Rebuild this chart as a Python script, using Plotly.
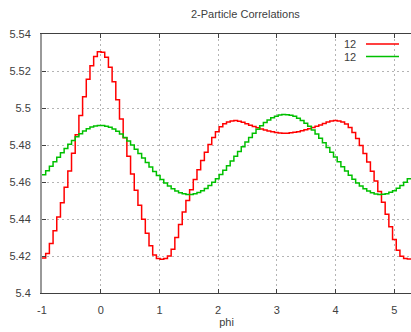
import numpy as np
import plotly.graph_objects as go

# ---- data ----
chart_title = "2-Particle Correlations"
x_title = "phi"
series_names = ["12", "12"]
series_colors = ["#ff0000", "#00c000"]
n_bins = 100
phi_min = -1.0
phi_max = 2 * np.pi - 1.0

red_values = [
    5.4189, 5.4214, 5.4267, 5.4336, 5.4411, 5.4488, 5.4571, 5.4659, 5.4756, 5.4856,
    5.4959, 5.5061, 5.5155, 5.5229, 5.5279, 5.5304, 5.5302, 5.5274, 5.5220, 5.5142,
    5.5044, 5.4941, 5.4839, 5.4739, 5.4643, 5.4556, 5.4474, 5.4398, 5.4323, 5.4255,
    5.4205, 5.4186, 5.4183, 5.4187, 5.4200, 5.4237, 5.4300, 5.4370, 5.4438, 5.4500,
    5.4558, 5.4614, 5.4666, 5.4716, 5.4761, 5.4803, 5.4840, 5.4872, 5.4898, 5.4915,
    5.4925, 5.4930, 5.4932, 5.4929, 5.4923, 5.4915, 5.4907, 5.4900, 5.4893, 5.4887,
    5.4881, 5.4876, 5.4871, 5.4868, 5.4865, 5.4864, 5.4864, 5.4866, 5.4869, 5.4872,
    5.4877, 5.4882, 5.4888, 5.4894, 5.4901, 5.4908, 5.4916, 5.4924, 5.4930, 5.4932,
    5.4930, 5.4924, 5.4913, 5.4895, 5.4868, 5.4835, 5.4797, 5.4754, 5.4708, 5.4658,
    5.4605, 5.4548, 5.4490, 5.4426, 5.4358, 5.4289, 5.4231, 5.4198, 5.4186, 5.4184,
]
green_values = [
    5.4639, 5.4661, 5.4685, 5.4709, 5.4734, 5.4758, 5.4781, 5.4804, 5.4825, 5.4844,
    5.4861, 5.4876, 5.4888, 5.4897, 5.4903, 5.4906, 5.4906, 5.4902, 5.4896, 5.4886,
    5.4874, 5.4859, 5.4841, 5.4821, 5.4800, 5.4777, 5.4754, 5.4730, 5.4705, 5.4681,
    5.4657, 5.4635, 5.4614, 5.4595, 5.4578, 5.4563, 5.4551, 5.4542, 5.4536, 5.4533,
    5.4533, 5.4537, 5.4543, 5.4553, 5.4565, 5.4581, 5.4598, 5.4618, 5.4640, 5.4663,
    5.4688, 5.4713, 5.4739, 5.4765, 5.4791, 5.4816, 5.4841, 5.4863, 5.4885, 5.4904,
    5.4921, 5.4935, 5.4947, 5.4956, 5.4962, 5.4965, 5.4964, 5.4961, 5.4955, 5.4945,
    5.4933, 5.4918, 5.4901, 5.4881, 5.4860, 5.4837, 5.4812, 5.4787, 5.4761, 5.4735,
    5.4709, 5.4683, 5.4659, 5.4636, 5.4615, 5.4595, 5.4578, 5.4563, 5.4551, 5.4542,
    5.4535, 5.4533, 5.4534, 5.4537, 5.4544, 5.4553, 5.4566, 5.4581, 5.4598, 5.4618,
]
x_tick_values = [-1, 0, 1, 2, 3, 4, 5]
x_tick_labels = ["-1", "0", "1", "2", "3", "4", "5"]
y_tick_values = [5.40, 5.42, 5.44, 5.46, 5.48, 5.50, 5.52, 5.54]
y_tick_labels = ["5.4", "5.42", "5.44", "5.46", "5.48", "5.5", "5.52", "5.54"]

# ---- figure ----
W, H = 411, 332
ML, MR, MT, MB = 42, 0, 34, 39
font_family = "Liberation Sans, Arial, sans-serif"
text_color = "#404040"

bin_edges = np.linspace(phi_min, phi_max, n_bins + 1)

fig = go.Figure()
for name, vals, col in zip(series_names, [red_values, green_values], series_colors):
    fig.add_trace(go.Scatter(
        x=bin_edges, y=list(vals) + [vals[-1]], mode="lines", name=name,
        line=dict(color=col, width=1.5, shape="hv"), showlegend=False,
        hoverinfo="skip"))

pw, ph = W - ML - MR, H - MT - MB
def px_x(p):
    return (p - ML) / pw
def px_y(p):
    return (H - MB - p) / ph

# manual gnuplot-style key (text then line sample)
key_rows = [44.0, 56.5]
for name, col, yy in zip(series_names, series_colors, key_rows):
    fig.add_annotation(x=px_x(358), y=px_y(yy), xref="paper", yref="paper",
                       text=name, showarrow=False, xanchor="right", yanchor="middle",
                       font=dict(family=font_family, size=11, color=text_color))
    fig.add_shape(type="line", xref="paper", yref="paper",
                  x0=px_x(366), x1=px_x(399), y0=px_y(yy), y1=px_y(yy),
                  line=dict(color=col, width=1.5))

fig.update_layout(
    width=W, height=H,
    margin=dict(l=ML, r=MR, t=MT, b=MB, pad=0),
    paper_bgcolor="white", plot_bgcolor="white",
    font=dict(family=font_family, size=11, color=text_color),
    title=dict(text=chart_title, x=(ML + pw / 2) / W, xanchor="center", xref="paper",
               y=1 - 14 / H, yanchor="middle", yref="container",
               font=dict(family=font_family, size=11, color=text_color)),
    showlegend=False,
    xaxis=dict(range=[phi_min, phi_max], tickmode="array", tickvals=x_tick_values,
               ticktext=x_tick_labels, showgrid=True, gridcolor="#b4b4b4",
               griddash="2px,3px", gridwidth=1, zeroline=False,
               showline=True, linecolor="#404040", linewidth=1, mirror="ticks",
               ticks="inside", ticklen=4, tickcolor="#404040", ticklabelstandoff=7,
               title=dict(text=x_title, standoff=0, font=dict(size=11, color=text_color)),
               automargin=False),
    yaxis=dict(range=[5.40, 5.54], tickmode="array", tickvals=y_tick_values,
               ticktext=y_tick_labels, showgrid=True, gridcolor="#b4b4b4",
               griddash="2px,3px", gridwidth=1, zeroline=False,
               showline=True, linecolor="#999999", linewidth=2, mirror=False,
               ticks="inside", ticklen=4, tickcolor="#404040", ticklabelstandoff=7,
               automargin=False),
)
fig.write_html("out.html")
